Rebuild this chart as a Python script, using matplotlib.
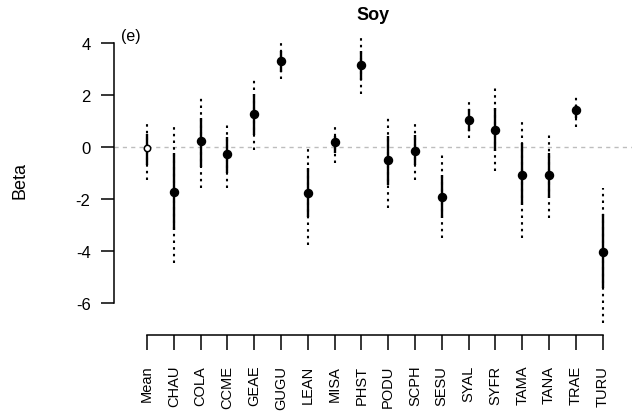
import matplotlib
matplotlib.use("Agg")
import matplotlib.pyplot as plt
import numpy as np

plt.rcParams["font.family"] = ["Liberation Sans", "DejaVu Sans"]

# ---- data ----
species = ["Mean", "CHAU", "COLA", "CCME", "GEAE", "GUGU", "LEAN", "MISA", "PHST",
           "PODU", "SCPH", "SESU", "SYAL", "SYFR", "TAMA", "TANA", "TRAE", "TURU"]
beta     = [-0.05, -1.72, 0.23, -0.27, 1.26, 3.31, -1.77, 0.21, 3.15,
            -0.51, -0.14, -1.92, 1.05, 0.67, -1.06, -1.08, 1.41, -4.04]
inner_lo = [-0.69, -3.19, -0.76, -1.01, 0.46, 2.90, -2.68, -0.21, 2.58,
            -1.46, -0.69, -2.74, 0.62, -0.15, -2.21, -1.95, 1.13, -5.41]
inner_hi = [0.49, -0.24, 1.10, 0.40, 2.06, 3.69, -0.82, 0.44, 3.69,
            0.44, 0.46, -1.08, 1.46, 1.49, 0.14, -0.21, 1.62, -2.59]
outer_lo = [-1.27, -4.47, -1.59, -1.56, -0.12, 2.62, -3.77, -0.63, 2.06,
            -2.36, -1.27, -3.51, 0.36, -0.92, -3.49, -2.72, 0.78, -6.78]
outer_hi = [0.91, 0.78, 1.87, 0.87, 2.58, 3.99, 0.01, 0.76, 4.24,
            1.10, 0.91, -0.28, 1.72, 2.28, 1.04, 0.49, 1.91, -1.56]

x = np.arange(1, len(species) + 1)

# ---- figure ----
W, H = 635, 414
fig = plt.figure(figsize=(W / 100, H / 100), dpi=100)
ax = fig.add_axes([114 / W, 1 - 336 / H, (632 - 114) / W, (336 - 35) / H])

ax.axhline(0, color="#bdbdbd", lw=1.0, dashes=(3, 3), zorder=1)

# outer interval dotted, inner interval solid
ax.vlines(x, outer_lo, outer_hi, colors="black", lw=1.5,
          linestyles=[(0, (1.2, 2.0))], zorder=2)
ax.vlines(x, inner_lo, inner_hi, colors="black", lw=1.7, zorder=3)

ax.plot(x[1:], beta[1:], "o", color="black", ms=5.8, zorder=4)
ax.plot(x[:1], beta[:1], "o", mfc="white", mec="black", mew=1.1, ms=4.6, zorder=4)

ax.set_xlim(-0.231, 19.10)
ax.set_ylim(-7.23, 4.35)

for s in ["top", "right"]:
    ax.spines[s].set_visible(False)
ax.spines["left"].set_bounds(-6, 4)
ax.spines["bottom"].set_bounds(1, len(species))
for s in ["left", "bottom"]:
    ax.spines[s].set_linewidth(1.1)

ax.set_yticks([-6, -4, -2, 0, 2, 4])
ax.set_yticklabels(["-6", "-4", "-2", "0", "2", "4"])
ax.set_xticks(x)
ax.set_xticklabels(species, rotation=90)

ax.tick_params(axis="y", length=9.4, width=1.1, pad=7.5, labelsize=12)
ax.tick_params(axis="x", length=11, width=1.1, pad=10.5, labelsize=10.5)

fig.text(373 / W, 1 - 15 / H, "Soy", ha="center", va="center",
         fontsize=13, fontweight="bold")
fig.text(20 / W, 1 - 181 / H, "Beta", ha="center", va="center",
         rotation=90, fontsize=13)
fig.text(121 / W, 1 - 37 / H, "(e)", ha="left", va="center", fontsize=11.5)

fig.savefig("out.png", dpi=100, facecolor="white")
